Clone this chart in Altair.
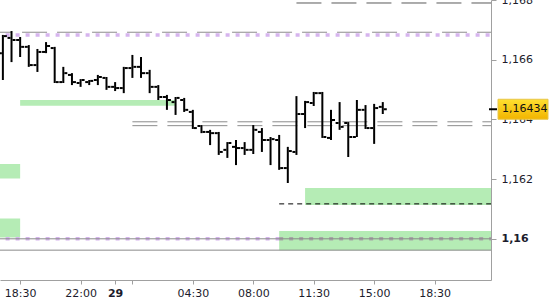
import altair as alt
import pandas as pd

# ---------------- data ----------------
bar_times = [
    "28 17:30", "28 18:00", "28 18:30", "28 19:00", "28 19:30", "28 20:00", "28 20:30",
    "28 21:00", "28 21:30", "28 22:00", "28 22:30", "28 23:00", "28 23:30",
    "29 00:00", "29 00:30", "29 01:00", "29 01:30", "29 02:00", "29 02:30", "29 03:00",
    "29 03:30", "29 04:00", "29 04:30", "29 05:00", "29 05:30", "29 06:00", "29 06:30",
    "29 07:00", "29 07:30", "29 08:00", "29 08:30", "29 09:00", "29 09:30", "29 10:00",
    "29 10:30", "29 11:00", "29 11:30", "29 12:00", "29 12:30", "29 13:00", "29 13:30",
    "29 14:00", "29 14:30", "29 15:00", "29 15:30",
]
opens = [1.16622, 1.16673, 1.16666, 1.16643, 1.16582, 1.16626, 1.16639, 1.16525, 1.16549,
         1.16522, 1.16525, 1.16532, 1.16539, 1.16509, 1.16505, 1.16572, 1.16576, 1.16555,
         1.16509, 1.16475, 1.16458, 1.16465, 1.16425, 1.16378, 1.16358, 1.16354, 1.16298,
         1.16308, 1.16304, 1.16298, 1.16358, 1.16331, 1.16331, 1.16237, 1.16291, 1.16418,
         1.16455, 1.16488, 1.16338, 1.16388, 1.16388, 1.16341, 1.16432, 1.16371, 1.16442]
highs = [1.16683, 1.16696, 1.16676, 1.16649, 1.16636, 1.16659, 1.16643, 1.16576, 1.16555,
         1.16535, 1.16532, 1.16549, 1.16542, 1.16525, 1.16576, 1.16616, 1.16609, 1.16566,
         1.16515, 1.16482, 1.16475, 1.16472, 1.16432, 1.16381, 1.16365, 1.16358, 1.16324,
         1.16331, 1.16324, 1.16381, 1.16371, 1.16341, 1.16348, 1.16308, 1.16478, 1.16462,
         1.16492, 1.16492, 1.16432, 1.16458, 1.16391, 1.16465, 1.16448, 1.16452, 1.16458]
lows = [1.16532, 1.16592, 1.16609, 1.16576, 1.16559, 1.16622, 1.16522, 1.16522, 1.16515,
        1.16509, 1.16515, 1.16515, 1.16499, 1.16495, 1.16488, 1.16539, 1.16539, 1.16488,
        1.16465, 1.16432, 1.16415, 1.16425, 1.16368, 1.16354, 1.16314, 1.16281, 1.16271,
        1.16247, 1.16281, 1.16284, 1.16291, 1.16247, 1.16231, 1.16187, 1.16281, 1.16371,
        1.16445, 1.16338, 1.16331, 1.16365, 1.16274, 1.16341, 1.16368, 1.16318, 1.16418]
closes = [1.16679, 1.16666, 1.16643, 1.16582, 1.16626, 1.16646, 1.16525, 1.16555, 1.16525,
          1.16532, 1.16529, 1.16542, 1.16509, 1.16505, 1.16572, 1.16576, 1.16555, 1.16509,
          1.16475, 1.16465, 1.16472, 1.16432, 1.16371, 1.16358, 1.16354, 1.16291, 1.16321,
          1.16304, 1.16298, 1.16365, 1.16331, 1.16334, 1.16237, 1.16294, 1.16418, 1.16458,
          1.16488, 1.16341, 1.16398, 1.16375, 1.16341, 1.16432, 1.16371, 1.16438, 1.16434]

# horizontal levels
dash_gray_prices = [1.16692, 1.16392, 1.16379]
dash_gray_starts = ["28 16:35", "29 01:00", "29 01:00"]
dash_dark_prices = [1.16790]
dash_dark_starts = ["29 10:30"]
dash_black_prices = [1.16117]
dash_black_starts = ["29 09:30"]
solid_gray_prices = [1.16000, 1.15962]
purple_dot_prices = [1.16683, 1.16000]
purple_dot_ends = ["29 23:00", "29 09:30"]
gray_dot_prices = [1.16000]
gray_dot_starts = ["29 09:30"]

# green zones
zone_starts = ["28 16:30", "28 16:30", "28 18:30", "29 09:30", "29 11:00"]
zone_ends = ["28 18:30", "28 18:30", "29 03:30", "29 23:00", "29 23:00"]
zone_lo = [1.16202, 1.16004, 1.16446, 1.15962, 1.16113]
zone_hi = [1.16251, 1.16068, 1.16465, 1.16026, 1.16170]

last_price = 1.16434
last_label = "1,16434"

x_tick_times = ["28 18:30", "28 22:00", "29 00:00", "29 01:00", "29 04:30",
                "29 08:00", "29 11:30", "29 15:00", "29 18:30"]
x_tick_labels = ["18:30", "22:00", "29", "", "04:30", "08:00", "11:30", "15:00", "18:30"]
y_ticks = [1.160, 1.162, 1.164, 1.166, 1.168]
x_domain_times = ["28 17:20", "29 21:46"]
y_domain = [1.15862, 1.168]


def hours(s):
    d, hm = s.split()
    h, m = hm.split(":")
    return (int(d) - 29) * 24 + int(h) + int(m) / 60.0


END = "29 23:00"

bars = pd.DataFrame({"t": [hours(s) for s in bar_times], "open": opens, "high": highs,
                     "low": lows, "close": closes})

def level_df(prices, starts, ends=None):
    if ends is None:
        ends = [END] * len(prices)
    return pd.DataFrame({"t0": [hours(s) for s in starts], "t1": [hours(s) for s in ends],
                         "p": prices})

zones = pd.DataFrame({"t0": [hours(s) for s in zone_starts], "t1": [hours(s) for s in zone_ends],
                      "lo": zone_lo, "hi": zone_hi})
last = pd.DataFrame({"p": [last_price], "label": [last_label]})

tick_hours = [hours(s) for s in x_tick_times]
FONT = "DejaVu Sans"
AX = "#a0a0a0"

xscale = alt.Scale(domain=[hours(s) for s in x_domain_times], nice=False, zero=False)
yscale = alt.Scale(domain=y_domain, nice=False, zero=False)

label_list = "[" + ",".join("'%s'" % l for l in x_tick_labels) + "]"
value_list = "[" + ",".join(repr(v) for v in tick_hours) + "]"

xaxis = alt.Axis(values=tick_hours, title=None, grid=False, tickSize=4, labelPadding=3,
                 domainColor=AX, tickColor=AX, labelFont=FONT, labelFontSize=11,
                 labelColor="#1c1c2c", labelOverlap=False, labelFlush=False,
                 labelExpr=label_list + "[indexof(" + value_list + ", datum.value)]",
                 labelFontWeight={"condition": {"test": "datum.value == 0", "value": "bold"},
                                  "value": "normal"})
yaxis = alt.Axis(orient="right", values=y_ticks, title=None, grid=False, tickSize=5,
                 labelPadding=5, domainColor=AX, tickColor=AX, labelFont=FONT,
                 labelFontSize=11, labelColor="#1c1c2c", labelOverlap=False,
                 labelExpr="replace(format(datum.value, '.3~f'), '.', ',')",
                 labelFontWeight={"condition": {"test": "abs(datum.value - 1.16) < 1e-7",
                                                "value": "bold"}, "value": "normal"})


def X(f):
    return alt.X(f, type="quantitative", scale=xscale, axis=xaxis)


def Y(f):
    return alt.Y(f, type="quantitative", scale=yscale, axis=yaxis)


GREEN = "#b5ecb5"
layers = []

# green zones
layers.append(alt.Chart(zones).mark_rect(color=GREEN, clip=True).encode(
    x=X("t0"), x2="t1", y=Y("lo"), y2="hi"))

# purple dotted
layers.append(alt.Chart(level_df(purple_dot_prices, ["28 16:30"] * 2, purple_dot_ends))
              .mark_rule(color="#d6b4ee", strokeWidth=3.5, strokeDash=[4, 6], clip=True)
              .encode(x=X("t0"), x2="t1", y=Y("p")))
layers.append(alt.Chart(level_df(gray_dot_prices, gray_dot_starts))
              .mark_rule(color="#a8a8a8", strokeWidth=3.5, strokeDash=[4, 6], clip=True)
              .encode(x=X("t0"), x2="t1", y=Y("p")))
# solid gray
layers.append(alt.Chart(level_df(solid_gray_prices, ["28 16:30"] * 2))
              .mark_rule(color="#8a8a8a", strokeWidth=1, clip=True)
              .encode(x=X("t0"), x2="t1", y=Y("p")))
# dashed gray
layers.append(alt.Chart(level_df(dash_gray_prices, dash_gray_starts))
              .mark_rule(color="#8c8c8c", strokeWidth=1, strokeDash=[25, 10], clip=True)
              .encode(x=X("t0"), x2="t1", y=Y("p")))
layers.append(alt.Chart(level_df(dash_dark_prices, dash_dark_starts))
              .mark_rule(color="#5a5a5a", strokeWidth=1, strokeDash=[25, 10], clip=True)
              .encode(x=X("t0"), x2="t1", y=Y("p")))
layers.append(alt.Chart(level_df(dash_black_prices, dash_black_starts))
              .mark_rule(color="#000000", strokeWidth=1, strokeDash=[5, 4], clip=True)
              .encode(x=X("t0"), x2="t1", y=Y("p")))

# OHLC bars
base = alt.Chart(bars)
layers.append(base.mark_rule(color="black", strokeWidth=2, clip=True).encode(
    x=X("t"), y=Y("low"), y2="high"))
layers.append(base.mark_rule(color="black", strokeWidth=2, xOffset=-4, x2Offset=-1, clip=True)
              .encode(x=X("t"), x2="t", y=Y("open")))
layers.append(base.mark_rule(color="black", strokeWidth=2, xOffset=1, x2Offset=4, clip=True)
              .encode(x=X("t"), x2="t", y=Y("close")))

# last price marker
grad = alt.LinearGradient(gradient="linear", x1=0, y1=0, x2=0, y2=1,
                          stops=[alt.GradientStop(offset=0, color="#ffe030"),
                                 alt.GradientStop(offset=1, color="#f2b400")])
lb = alt.Chart(last)
layers.append(lb.mark_rect(fill=grad, stroke="#e8c64a", strokeWidth=1, yOffset=-10, y2Offset=10)
              .encode(x=alt.value(498), x2=alt.value(548), y=Y("p"), y2="p"))
layers.append(lb.mark_rule(color="black", strokeWidth=2)
              .encode(x=alt.value(489), x2=alt.value(497), y=Y("p")))
layers.append(lb.mark_text(align="left", baseline="middle", font=FONT, fontSize=11, color="#111")
              .encode(x=alt.value(502), y=Y("p"), text="label:N"))

chart = alt.layer(*layers).properties(
    width=491, height=280,
    padding={"left": 0, "top": 0, "right": 59, "bottom": 20},
    autosize=alt.AutoSizeParams(type="none"),
    background="white",
).configure_view(stroke=None)

chart.save("out.html", embed_options={"renderer": "svg", "actions": False})
